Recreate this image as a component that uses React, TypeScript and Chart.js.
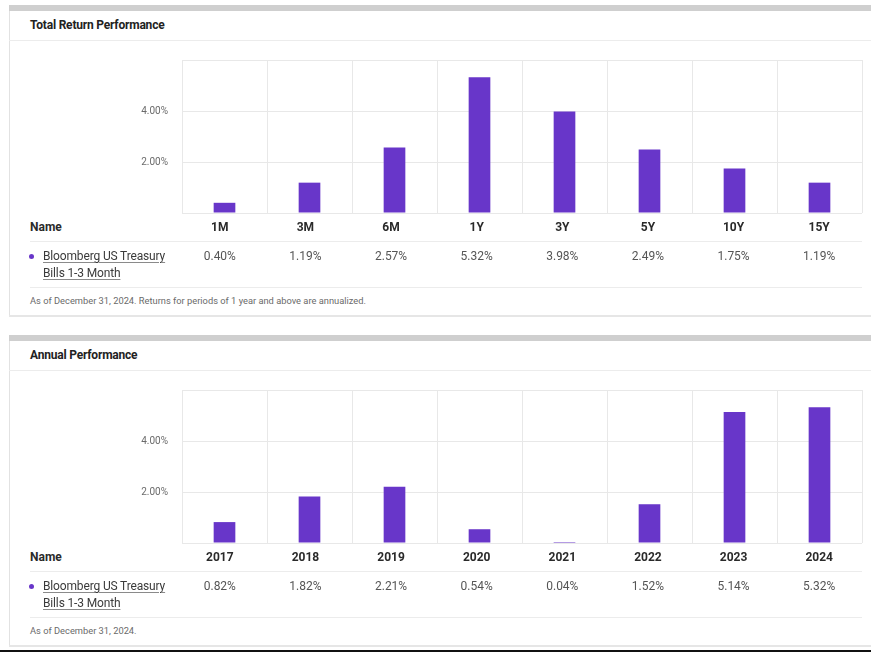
import React, { useEffect, useRef } from "react";
import { Chart, registerables } from "chart.js";

Chart.register(...registerables);

const trTitle = "Total Return Performance";
const trCategories = ["1M", "3M", "6M", "1Y", "3Y", "5Y", "10Y", "15Y"];
const trValues = [0.4, 1.19, 2.57, 5.32, 3.98, 2.49, 1.75, 1.19];
const trNote = "As of December 31, 2024. Returns for periods of 1 year and above are annualized.";

const annTitle = "Annual Performance";
const annCategories = ["2017", "2018", "2019", "2020", "2021", "2022", "2023", "2024"];
const annValues = [0.82, 1.82, 2.21, 0.54, 0.04, 1.52, 5.14, 5.32];
const annNote = "As of December 31, 2024.";

const seriesNameLines = ["Bloomberg US Treasury", "Bills 1-3 Month"];
const yMin = 0;
const yMax = 6;
const yStep = 2;
const yLabeledTicks = [2, 4];

const BAR = "#6836c9";
const GRID = "#e8e8e8";
const FONT = "Roboto, 'Noto Sans', sans-serif";

function BarChart({ labels, values }: { labels: string[]; values: number[] }) {
  const ref = useRef<HTMLCanvasElement>(null);
  useEffect(() => {
    const chart = new Chart(ref.current!, {
      type: "bar",
      data: {
        labels,
        datasets: [
          {
            data: values,
            backgroundColor: BAR,
            borderWidth: 0,
            barPercentage: 0.255,
            categoryPercentage: 1,
          },
        ],
      },
      options: {
        animation: false,
        responsive: false,
        maintainAspectRatio: false,
        layout: { padding: { top: 0, right: 9, bottom: 0, left: 0 } },
        plugins: { legend: { display: false }, tooltip: { enabled: false } },
        scales: {
          x: {
            grid: { color: GRID, offset: true, drawTicks: false },
            border: { display: false },
            ticks: { display: false },
            afterFit: (s: any) => {
              s.height = 0;
            },
          },
          y: {
            min: yMin,
            max: yMax,
            ticks: {
              stepSize: yStep,
              callback: (v: any) => (yLabeledTicks.includes(Number(v)) ? Number(v).toFixed(2) + "%" : ""),
              color: "#6b6b6b",
              font: { family: FONT, size: 10 },
              padding: 14,
            },
            grid: { color: GRID, drawTicks: false },
            border: { display: false },
            afterFit: (s: any) => {
              s.width = 82;
            },
          },
        },
      },
    });
    return () => chart.destroy();
  }, [labels, values]);
  return (
    <canvas
      ref={ref}
      width={771}
      height={193}
      style={{ position: "absolute", left: 91, top: 35, width: 771, height: 193 }}
    />
  );
}

function Panel({
  top,
  height,
  title,
  categories,
  values,
  note,
}: {
  top: number;
  height: number;
  title: string;
  categories: string[];
  values: number[];
  note: string;
}) {
  const colW = (832 - 147) / 8;
  const abs = (l: number, t: number, extra: React.CSSProperties = {}): React.CSSProperties => ({
    position: "absolute",
    left: l,
    top: t,
    ...extra,
  });
  return (
    <div style={abs(9, top, { width: 862, height })}>
      {/* frame */}
      <div style={abs(0, 0, { width: 862, height: 6, background: "#cfcfcf" })} />
      <div style={abs(0, 6, { width: 1, height: height - 6, background: "#e2e2e2" })} />
      <div style={abs(0, height - 2, { width: 862, height: 2, background: "#e6e6e6" })} />
      <div style={abs(0, 35, { width: 862, height: 1, background: "#ececec" })} />
      {/* title */}
      <div
        style={abs(21, 12, {
          height: 16,
          lineHeight: "16px",
          fontFamily: FONT,
          fontWeight: 700,
          fontSize: 12,
          color: "#222",
          letterSpacing: "-0.2px",
        })}
      >
        {title}
      </div>
      <BarChart labels={categories} values={values} />
      {/* header row */}
      <div
        style={abs(21, 214, {
          height: 16,
          lineHeight: "16px",
          fontFamily: FONT,
          fontWeight: 700,
          fontSize: 12,
          color: "#2a2a2a",
        })}
      >
        Name
      </div>
      {categories.map((c, i) => (
        <div
          key={c}
          style={abs(21 + 147 + colW * i, 214, {
            width: colW,
            textAlign: "center",
            height: 16,
            lineHeight: "16px",
            fontFamily: FONT,
            fontWeight: 700,
            fontSize: 12,
            color: "#2a2a2a",
          })}
        >
          {c}
        </div>
      ))}
      <div style={abs(21, 236, { width: 832, height: 1, background: "#ececec" })} />
      {/* data row */}
      <div style={abs(20, 249, { width: 5, height: 5, borderRadius: 3, background: BAR })} />
      {seriesNameLines.map((t, i) => (
        <div
          key={t}
          style={abs(34, 243 + i * 17, {
            height: 16,
            lineHeight: "16px",
            fontFamily: FONT,
            fontSize: 12,
            color: "#3a3a3a",
            textDecoration: "underline",
            textDecorationColor: "#8a8a8a",
            textUnderlineOffset: "2px",
            whiteSpace: "nowrap",
            letterSpacing: "-0.15px",
          })}
        >
          {t}
        </div>
      ))}
      {values.map((v, i) => (
        <div
          key={categories[i]}
          style={abs(21 + 147 + colW * i, 243, {
            width: colW,
            textAlign: "center",
            height: 16,
            lineHeight: "16px",
            fontFamily: FONT,
            fontSize: 12,
            color: "#555",
          })}
        >
          {v.toFixed(2) + "%"}
        </div>
      ))}
      <div style={abs(21, 282, { width: 832, height: 1, background: "#ececec" })} />
      <div
        style={abs(21, 289, {
          height: 14,
          lineHeight: "14px",
          fontFamily: FONT,
          fontSize: 9.3,
          color: "#6a6a6a",
          whiteSpace: "nowrap",
        })}
      >
        {note}
      </div>
    </div>
  );
}

export default function App() {
  return (
    <div
      style={{
        position: "absolute",
        left: 0,
        top: 0,
        width: 871,
        height: 652,
        background: "#fff",
        overflow: "hidden",
      }}
    >
      <Panel top={5} height={312} title={trTitle} categories={trCategories} values={trValues} note={trNote} />
      <Panel top={335} height={312} title={annTitle} categories={annCategories} values={annValues} note={annNote} />
      <div style={{ position: "absolute", left: 0, top: 650, width: 871, height: 2, background: "#111" }} />
    </div>
  );
}
